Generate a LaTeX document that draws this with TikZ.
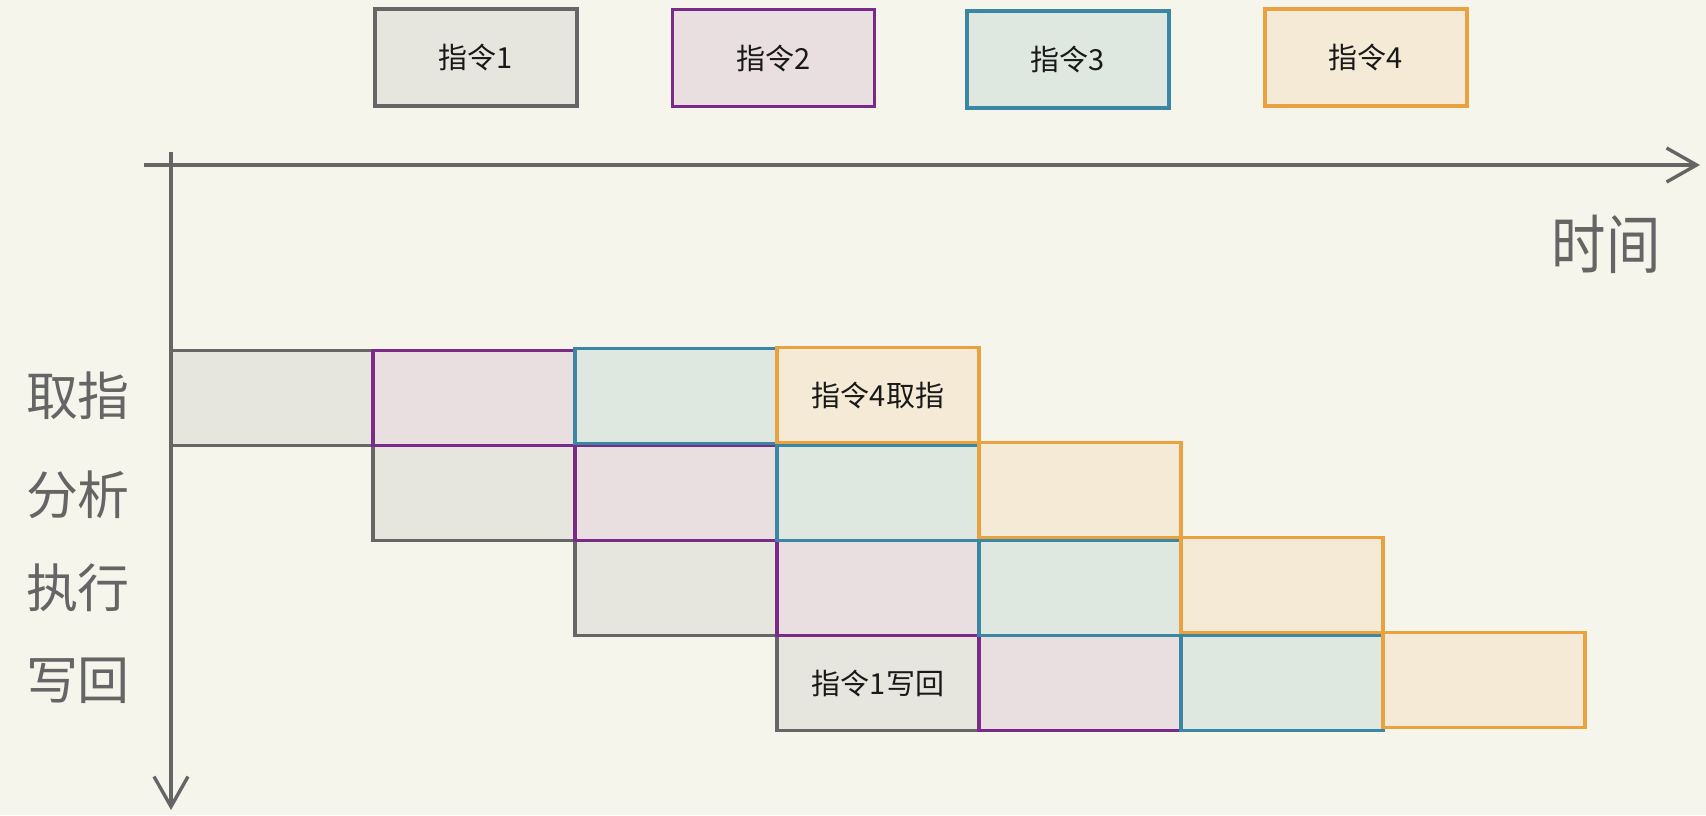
\documentclass[tikz,border=0pt]{standalone}
\usepackage{fontspec}
\newfontfamily\cjk{Noto Sans CJK SC}
\usetikzlibrary{arrows.meta}
\definecolor{bgc}{HTML}{F6F5EB}
\definecolor{axc}{HTML}{656565}
\definecolor{gfill}{HTML}{E6E6DE}\definecolor{gline}{HTML}{666666}
\definecolor{pfill}{HTML}{E9DFE0}\definecolor{pline}{HTML}{7A2B88}
\definecolor{bfill}{HTML}{DEE7E0}\definecolor{bline}{HTML}{3B86A3}
\definecolor{ofill}{HTML}{F4EAD6}\definecolor{oline}{HTML}{E9A23F}
\tikzset{
  cell/.style={rectangle, minimum width=202pt, minimum height=95pt, inner sep=0pt, outer sep=0pt, line width=3.2pt, font=\cjk\fontsize{29}{32}\selectfont, text=black!90},
  gcell/.style={cell, fill=gfill, draw=gline},
  pcell/.style={cell, fill=pfill, draw=pline},
  bcell/.style={cell, fill=bfill, draw=bline},
  ocell/.style={cell, fill=ofill, draw=oline, yshift=3pt},
  axis/.style={draw=axc, line width=3.4pt, -{Straight Barb[length=30pt, width=34pt, line width=3.4pt]}},
  rowlabel/.style={font=\cjk\fontsize{52}{56}\selectfont, text=axc},
}
\begin{document}
\begin{tikzpicture}[x=1pt,y=-1pt]
\fill[bgc] (0,0) rectangle (1706,815);
\useasboundingbox (0,0) rectangle (1706,815);
% legend boxes
\node[gcell, minimum height=97pt] (l1) at (476,57.5) {指令1};
\node[pcell, minimum height=97pt] (l2) at (773.5,58) {指令2};
\node[bcell, minimum height=97pt] (l3) at (1068,59.5) {指令3};
\node[ocell, minimum height=97pt, yshift=-3pt] (l4) at (1366,57.5) {指令4};
% axes
\coordinate (hs) at (144,165);
\coordinate (he) at (1700,165);
\coordinate (vs) at (171,152);
\coordinate (ve) at (171,810);
\draw[axis] (hs) -- (he);
\draw[axis] (vs) -- (ve);
\node[font=\cjk\fontsize{64}{66}\selectfont, text=axc, xscale=0.85] (time) at (1606,244) {时间};
% row labels
\node[rowlabel] (lab1) at (78,396) {取指};
\node[rowlabel] (lab2) at (78,495) {分析};
\node[rowlabel] (lab3) at (78,588) {执行};
\node[rowlabel] (lab4) at (78,681) {写回};
% grid: instruction 1 (gray)
\node[gcell] (g1) at (272,398) {};
\node[gcell] (g2) at (474,493) {};
\node[gcell] (g3) at (676,588) {};
\node[gcell] (g4) at (878,683) {指令1写回};
% instruction 2 (purple)
\node[pcell] (p1) at (474,398) {};
\node[pcell] (p2) at (676,493) {};
\node[pcell] (p3) at (878,588) {};
\node[pcell] (p4) at (1080,683) {};
% instruction 3 (blue)
\node[bcell, yshift=2pt] (b1) at (676,398) {};
\node[bcell] (b2) at (878,493) {};
\node[bcell] (b3) at (1080,588) {};
\node[bcell] (b4) at (1282,683) {};
% instruction 4 (orange)
\node[ocell] (o1) at (878,398) {指令4取指};
\node[ocell] (o2) at (1080,493) {};
\node[ocell] (o3) at (1282,588) {};
\node[ocell] (o4) at (1484,683) {};
\end{tikzpicture}
\end{document}
